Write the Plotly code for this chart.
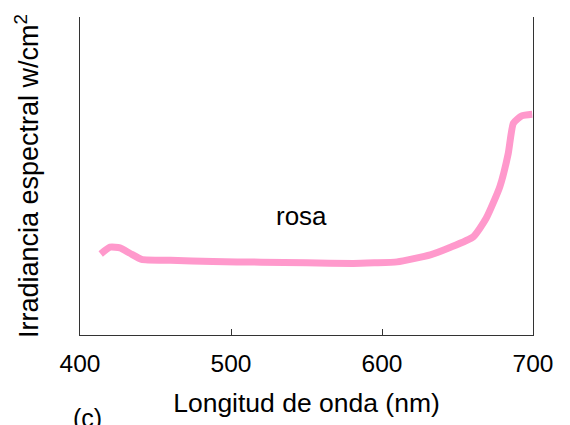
import plotly.graph_objects as go

wavelength = [413.7, 419.9, 426.5, 433.0, 440.8, 460.0, 488.0, 520.0, 550.0, 581.0,
              595.0, 610.0, 632.0, 645.0, 660.5, 669.0, 678.0, 683.6, 687.0, 692.5, 699.5]
irradiance = [25.5, 27.6, 27.4, 25.7, 23.8, 23.5, 23.1, 22.9, 22.7, 22.5,
              22.7, 23.0, 25.2, 27.5, 30.9, 36.7, 46.6, 57.1, 66.6, 68.9, 69.4]
x_ticks = [400, 500, 600, 700]
series_label = "rosa"

FONT = "Liberation Sans, Arial, sans-serif"

fig = go.Figure()
fig.add_trace(go.Scatter(x=wavelength, y=irradiance, mode="lines",
                         line=dict(color="#FF99CC", width=7, shape="spline", smoothing=0.5),
                         showlegend=False, hoverinfo="skip"))
# invisible trace for right-hand axis line
fig.add_trace(go.Scatter(x=[wavelength[0]], y=[irradiance[0]], yaxis="y2",
                         mode="markers", marker=dict(opacity=0), showlegend=False,
                         hoverinfo="skip"))

fig.update_layout(
    width=570, height=425,
    margin=dict(l=80, r=37, t=17, b=90),
    paper_bgcolor="white", plot_bgcolor="white",
    font=dict(family=FONT, color="black", size=25),
    xaxis=dict(range=[400, 700], tickvals=x_ticks, ticktext=[str(v) for v in x_ticks],
               ticks="inside", ticklen=6, tickcolor="#333", tickwidth=1,
               showline=True, linecolor="#333", linewidth=1.3, showgrid=False,
               zeroline=False, tickfont=dict(size=24.5), ticklabelstandoff=6,
               title=dict(text="Longitud de onda (nm)", font=dict(size=26.5), standoff=17),
               automargin=False),
    yaxis=dict(range=[0, 100], showticklabels=False, ticks="", showgrid=False,
               zeroline=False, showline=True, linecolor="#333", linewidth=1.3,
               title=dict(text="Irradiancia espectral w/cm<sup>2</sup>",
                          font=dict(size=27), standoff=32),
               automargin=False),
    yaxis2=dict(range=[0, 100], overlaying="y", side="right", showticklabels=False,
                ticks="", showgrid=False, zeroline=False, showline=True,
                linecolor="#333", linewidth=1.3),
    annotations=[
        dict(x=546.7, y=32, xref="x", yref="y", text=series_label, showarrow=False,
             font=dict(size=26, color="black"), yanchor="bottom"),
        dict(x=-0.02, y=-0.21, xref="paper", yref="paper", text="(c)", showarrow=False,
             font=dict(size=25, color="black"), yanchor="top", xanchor="left"),
    ],
)

fig.write_html("out.html", config={"displayModeBar": False},
               post_script="document.body.style.margin='0';")
